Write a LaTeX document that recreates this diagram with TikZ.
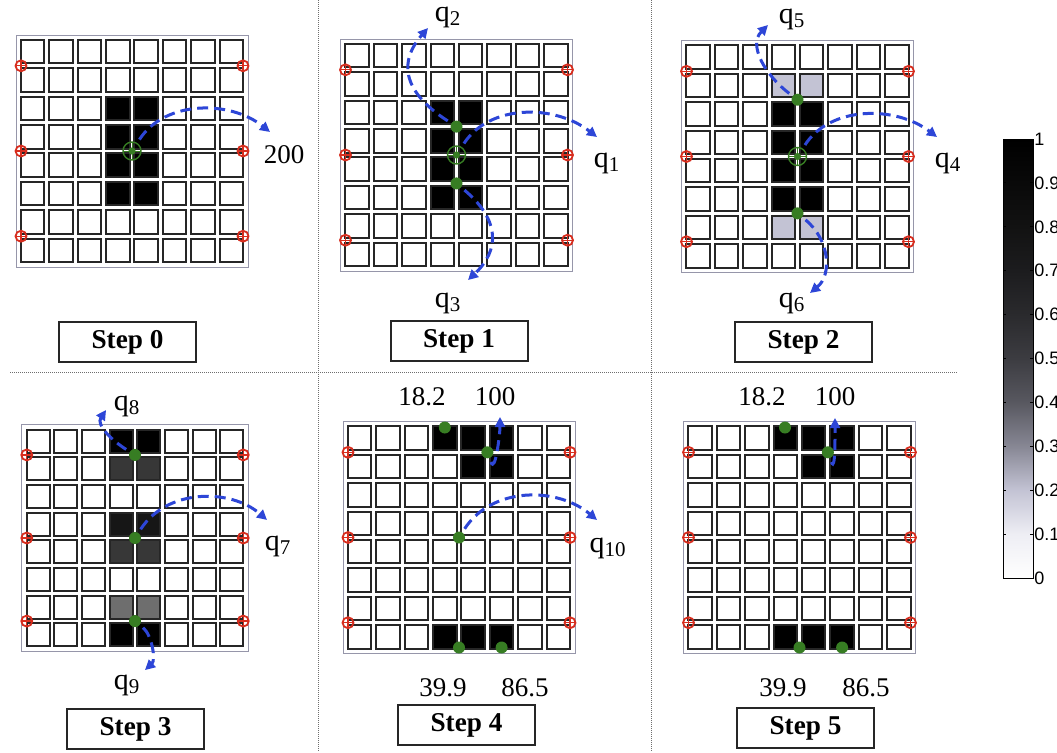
\documentclass[tikz,border=0pt]{standalone}
\usepackage{fontspec}
\setmainfont{Liberation Serif}
\newfontfamily\cbfont{Liberation Sans}
\usetikzlibrary{arrows.meta}
\definecolor{qblue}{RGB}{45,70,215}
\definecolor{markgreen}{RGB}{55,125,35}
\definecolor{markred}{RGB}{215,45,30}
\definecolor{framegray}{RGB}{150,150,170}
\definecolor{sepgray}{RGB}{110,110,110}
\definecolor{cb1}{RGB}{238,238,244}
\definecolor{cb2}{RGB}{195,195,212}
\definecolor{cb3}{RGB}{135,135,148}
\definecolor{cb4}{RGB}{88,88,96}
\definecolor{cb5}{RGB}{60,60,65}
\definecolor{cb6}{RGB}{42,42,45}
\definecolor{cb7}{RGB}{28,28,30}
\definecolor{cb8}{RGB}{18,18,18}
\definecolor{cb9}{RGB}{9,9,9}
\definecolor{darkcell}{RGB}{55,55,55}
\definecolor{blackcell}{RGB}{22,22,22}
\definecolor{midcell}{RGB}{110,110,110}
\pgfdeclareverticalshading{cbarshade}{100bp}{color(0bp)=(white); color(25bp)=(white);
  color(30bp)=(cb1); color(35bp)=(cb2); color(40bp)=(cb3); color(45bp)=(cb4);
  color(50bp)=(cb5); color(55bp)=(cb6); color(60bp)=(cb7); color(65bp)=(cb8);
  color(70bp)=(cb9); color(75bp)=(black); color(100bp)=(black)}
\tikzset{
  cell/.style={draw=black!85, line width=1pt, fill=white},
  gridframe/.style={draw=framegray, line width=0.5pt, fill=white},
  redmark/.style={circle, draw=markred, line width=0.9pt, minimum size=5.5pt, inner sep=0pt,
    path picture={\draw[markred, line width=0.6pt] (path picture bounding box.west) -- (path picture bounding box.east)
      (path picture bounding box.north) -- (path picture bounding box.south);}},
  greenring/.style={circle, draw=markgreen, line width=0.7pt, minimum size=9pt, inner sep=0pt,
    path picture={\fill[markgreen] (path picture bounding box.center) circle (1.8pt);
      \draw[markgreen, line width=0.5pt] (path picture bounding box.west) -- (path picture bounding box.east)
      (path picture bounding box.north) -- (path picture bounding box.south);}},
  greendot/.style={circle, fill=markgreen, minimum size=6pt, inner sep=0pt},
  qarrow/.style={draw=qblue, line width=1.5pt, dash pattern=on 5.5pt off 3pt,
    -{Triangle[length=5pt,width=5pt]}, shorten <=2pt},
  qlabel/.style={font=\fontsize{15}{17}\selectfont, inner sep=1pt},
  numlabel/.style={font=\fontsize{13.5}{15}\selectfont, inner sep=1pt},
  stepbox/.style={draw=black!85, line width=1pt, fill=white, minimum width=68.5pt,
    minimum height=20pt, inner sep=0pt, font=\fontsize{13.6}{15}\selectfont\bfseries},
  sepline/.style={draw=sepgray, line width=0.5pt, dash pattern=on 0.5pt off 0.5pt},
  cblabel/.style={font=\cbfont\fontsize{9}{10}\selectfont, inner sep=0pt, anchor=west}
}
% 8x8 grid of cells round the scope origin
\newcommand{\cellgrid}{%
  \draw[gridframe] (-116,-116) rectangle (116,116);
  \foreach \i in {0,...,7}
    \foreach \j in {0,...,7}
      \draw[cell] ({(\i-3.5)*28.4-11.75},{(\j-3.5)*28.4-11.75}) rectangle ++(23.5,23.5);
}
\newcommand{\fillcells}[2]{%
  \foreach \i/\j in {#2}
    \draw[cell,fill=#1] ({(\i-3.5)*28.4-11.75},{(\j-3.5)*28.4-11.75}) rectangle ++(23.5,23.5);
}
\newcommand{\redmarks}[1]{%
  \foreach \k in {-3,0,3}{
    \node[redmark] (#1l\k) at (-111,{\k*28.4}) {};
    \node[redmark] (#1r\k) at (111,{\k*28.4}) {};
  }
}
\begin{document}
\begin{tikzpicture}[x=0.5pt,y=-0.5pt]
\useasboundingbox (0,0) rectangle (1057,752);
\fill[white] (0,0) rectangle (1057,752);
% separators
\draw[sepline] (318,0) -- (318,752);
\draw[sepline] (651,0) -- (651,752);
\draw[sepline] (10,372) -- (958,372);

% step 0
\begin{scope}[shift={(132,151)}]
  \cellgrid
  \fillcells{black}{3/2,4/2,3/3,4/3,3/4,4/4,3/5,4/5}
  \redmarks{a}
  \node[greenring] (a0) at (0,0) {};
  \coordinate (a0t) at (138,-19);
  \draw[qarrow] (a0) .. controls (33,-51) and (98,-51) .. (a0t);
  \node[numlabel] (v200) at (152,4) {200};
\end{scope}

% step 1
\begin{scope}[shift={(456.5,155)}]
  \cellgrid
  \fillcells{black}{3/2,4/2,3/3,4/3,3/4,4/4,3/5,4/5}
  \redmarks{b}
  \node[greenring] (b0) at (0,0) {};
  \node[greendot] (b1) at (0,-28.4) {};
  \node[greendot] (b2) at (0,28.4) {};
  \coordinate (b0t) at (140.5,-18); \coordinate (b1t) at (-28.5,-127);
  \coordinate (b2t) at (11.5,125);
  \draw[qarrow] (b0) .. controls (33,-51) and (98,-51) .. (b0t);
  \draw[qarrow] (b1) .. controls (-56.5,-65) and (-56.5,-95) .. (b1t);
  \draw[qarrow] (b2) .. controls (43.5,65) and (43.5,95) .. (b2t);
  \node[qlabel] (q1) at (150.5,8) {q\textsubscript{1}};
  \node[qlabel] (q2) at (-8.5,-138) {q\textsubscript{2}};
  \node[qlabel] (q3) at (-8.5,148) {q\textsubscript{3}};
\end{scope}

% step 2
\begin{scope}[shift={(797.5,156.5)}]
  \cellgrid
  \fillcells{black}{3/2,4/2,3/3,4/3,3/4,4/4,3/5,4/5}
  \fillcells{cb2}{3/1,4/1,3/6,4/6}
  \redmarks{c}
  \node[greenring] (c0) at (0,0) {};
  \node[greendot] (c1) at (0,-56.8) {};
  \node[greendot] (c2) at (0,56.8) {};
  \coordinate (c0t) at (139.5,-19.5); \coordinate (c1t) at (-29.5,-131.5);
  \coordinate (c2t) at (12.5,136.5);
  \draw[qarrow] (c0) .. controls (33,-51) and (98,-51) .. (c0t);
  \draw[qarrow] (c1) .. controls (-32.5,-81.5) and (-49.5,-111.5) .. (c1t);
  \draw[qarrow] (c2) .. controls (32.5,83.5) and (34.5,118.5) .. (c2t);
  \node[qlabel] (q4) at (150.5,6.5) {q\textsubscript{4}};
  \node[qlabel] (q5) at (-5.5,-137.5) {q\textsubscript{5}};
  \node[qlabel] (q6) at (-5.5,146.5) {q\textsubscript{6}};
\end{scope}

% step 3
\begin{scope}[shift={(135,538)},scale=0.975]
  \cellgrid
  \fillcells{black}{3/0,4/0,3/7,4/7}
  \fillcells{blackcell}{3/3,4/3}
  \fillcells{darkcell}{3/1,4/1,3/4,4/4}
  \fillcells{midcell}{3/6,4/6}
  \redmarks{d}
  \node[greendot] (d0) at (0,0) {};
  \node[greendot] (d1) at (0,-85.2) {};
  \node[greendot] (d2) at (0,85.2) {};
  \coordinate (d0t) at (135.4,-18.5); \coordinate (d1t) at (-29.7,-131.3);
  \coordinate (d2t) at (10.3,135.4);
  \draw[qarrow] (d0) .. controls (33,-51) and (98,-51) .. (d0t);
  \draw[qarrow] (d1) .. controls (-23.6,-100) and (-40,-115.9) .. (d1t);
  \draw[qarrow] (d2) .. controls (17.4,99.5) and (21.5,125.1) .. (d2t);
  \node[qlabel] (q7) at (146.7,8.2) {q\textsubscript{7}};
  \node[qlabel] (q8) at (-8.2,-135.4) {q\textsubscript{8}};
  \node[qlabel] (q9) at (-8.2,150.8) {q\textsubscript{9}};
\end{scope}

% step 4
\begin{scope}[shift={(459,537.5)}]
  \cellgrid
  \fillcells{black}{3/0,4/0,5/0,4/1,5/1,3/7,4/7,5/7}
  \redmarks{e}
  \node[greendot] (e0) at (0,0) {};
  \node[greendot] (e1) at (-14.2,-110) {};
  \node[greendot] (e2) at (28.4,-85.2) {};
  \node[greendot] (e3) at (0,110) {};
  \node[greendot] (e4) at (42.6,110) {};
  \coordinate (e0t) at (138,-17.5); \coordinate (e2t) at (41,-120.5);
  \draw[qarrow] (e0) .. controls (33,-51) and (98,-51) .. (e0t);
  \draw[qarrow] (e2) to[out=-70,in=-90] (e2t);
  \node[qlabel] (q10) at (149,10.5) {q\textsubscript{10}};
  \node[numlabel] (e1v) at (-37,-140.5) {18.2};
  \node[numlabel] (e2v) at (36,-140.5) {100};
  \node[numlabel] (e3v) at (-16,150.5) {39.9};
  \node[numlabel] (e4v) at (66,150.5) {86.5};
\end{scope}

% step 5
\begin{scope}[shift={(799.5,537.5)}]
  \cellgrid
  \fillcells{black}{3/0,4/0,5/0,4/1,5/1,3/7,4/7,5/7}
  \redmarks{f}
  \node[greendot] (f1) at (-14.5,-110) {};
  \node[greendot] (f2) at (28.4,-85.2) {};
  \node[greendot] (f3) at (0,110) {};
  \node[greendot] (f4) at (42.6,110) {};
  \coordinate (f2t) at (35.5,-119.5);
  \draw[qarrow] (f2) to[out=-70,in=-90] (f2t);
  \node[numlabel] (f1v) at (-37.5,-140.5) {18.2};
  \node[numlabel] (f2v) at (35.5,-140.5) {100};
  \node[numlabel] (f3v) at (-16.5,150.5) {39.9};
  \node[numlabel] (f4v) at (66.5,150.5) {86.5};
\end{scope}

% step labels
\node[stepbox] (s0) at (127.5,342) {Step 0};
\node[stepbox] (s1) at (459,341) {Step 1};
\node[stepbox] (s2) at (803.5,342) {Step 2};
\node[stepbox] (s3) at (135.5,729) {Step 3};
\node[stepbox] (s4) at (466.5,725) {Step 4};
\node[stepbox] (s5) at (805.5,728) {Step 5};

% colour bar
\shade[shading=cbarshade] (1003,139) rectangle (1033,578);
\draw[line width=0.5pt] (1003,139) rectangle (1033,578);
\foreach \k in {1,...,9}{
  \draw[line width=0.5pt] (1003,{578-43.9*\k}) -- ++(3,0);
  \draw[line width=0.5pt] (1033,{578-43.9*\k}) -- ++(-3,0);
  \node[cblabel] (cb\k) at (1034,{578-43.9*\k}) {0.\k};
}
\node[cblabel] (cb0) at (1034,578) {0};
\node[cblabel] (cb10) at (1034,139) {1};
\end{tikzpicture}
\end{document}
